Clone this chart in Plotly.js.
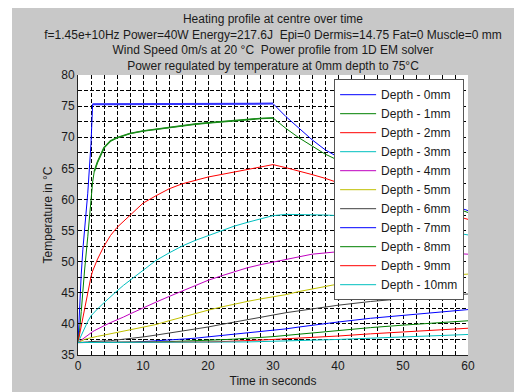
<!DOCTYPE html>
<html><head><meta charset="utf-8">
<script src="https://cdn.plot.ly/plotly-3.0.1.min.js"></script>
<style>
html,body{margin:0;padding:0;background:#ffffff;}
#chart{position:absolute;left:12px;top:8px;width:502px;height:384px;}
</style></head>
<body><div id="chart"></div>
<script>
const timeSec = [0,0.25,0.5,0.75,1,1.5,2,2.25,2.5,3,4,5,6,7,8,10,12,14,16,18,20,22,24,26,28,30,32,34,36,38,40,45,50,55,60];
const seriesNames = ["Depth - 0mm","Depth - 1mm","Depth - 2mm","Depth - 3mm","Depth - 4mm","Depth - 5mm","Depth - 6mm","Depth - 7mm","Depth - 8mm","Depth - 9mm","Depth - 10mm"];
const depth0 = [37,43,48,52,55,61,69,75.3,75.3,75.3,75.3,75.4,75.3,75.3,75.3,75.3,75.3,75.4,75.3,75.3,75.3,75.4,75.3,75.3,75.4,75.4,73.3,71.4,69.6,68.0,66.8,64.1,61.9,60.0,58.2];
const depth1 = [37,39,42,45.5,48.5,54,60,62.8,64.5,66,68.3,69.4,69.9,70.3,70.6,71.0,71.3,71.6,71.9,72.1,72.3,72.5,72.7,72.8,73,73.1,71.4,69.9,68.6,67.3,66.3,63.8,61.6,59.7,57.9];
const depth2 = [37,38.4,39.7,41,42.3,45.1,47.6,48.5,49.2,50.4,52.5,54.2,55.5,56.5,57.4,59.4,60.6,61.7,62.5,63.1,63.6,64,64.4,64.8,65.2,65.6,65.1,64.6,64.0,63.4,62.7,61.2,59.7,58.2,56.8];
const depth3 = [37,37.6,38.2,38.8,39.3,40.4,41.3,41.6,41.9,42.4,43.4,44.4,45.3,46.2,47.0,48.7,50.2,51.4,52.5,53.4,54.2,55,55.7,56.3,56.9,57.4,57.6,57.6,57.6,57.5,57.4,56.7,55.9,55.1,54.3];
const depth4 = [37,37.2,37.4,37.6,37.9,38.3,38.6,38.75,38.9,39.2,39.7,40.2,40.6,41.1,41.6,42.6,43.5,44.4,45.3,46.2,47.0,47.7,48.4,49.0,49.5,49.9,50.4,50.8,51.2,51.4,51.6,51.8,51.7,51.5,51.2];
const depth5 = [37,37.15,37.3,37.4,37.5,37.65,37.8,37.85,37.9,38.0,38.2,38.4,38.6,38.8,39.0,39.4,39.9,40.5,41.1,41.7,42.2,42.7,43.2,43.6,44.0,44.3,44.7,45.2,45.6,46.0,46.4,47.0,47.4,47.7,48.0];
const depth6 = [37,37,37.05,37.05,37.1,37.1,37.15,37.15,37.2,37.2,37.25,37.3,37.4,37.5,37.6,37.9,38.2,38.5,38.8,39.1,39.5,39.9,40.3,40.7,41.1,41.5,41.8,42.1,42.4,42.7,43.0,43.6,44.1,44.5,44.8];
const depth7 = [37,37,37,37,37,37,37,37,37,37,37,37,37.02,37.03,37.05,37.15,37.25,37.4,37.55,37.7,37.9,38.1,38.3,38.5,38.7,38.9,39.2,39.5,39.8,40.1,40.3,40.9,41.4,41.9,42.3];
const depth8 = [37,37,37,37,37,37,37,37,37,37,37,37,37,37,37,37.05,37.1,37.15,37.2,37.3,37.35,37.45,37.55,37.65,37.8,37.95,38.15,38.35,38.5,38.7,38.9,39.4,39.8,40.2,40.5];
const depth9 = [37,37,37,37,37,37,37,37,37,37,37,37,37,37,37,37,37,37,37,37.05,37.1,37.15,37.2,37.3,37.4,37.5,37.6,37.7,37.8,37.9,38.05,38.4,38.7,39.0,39.3];
const depth10 = [37,37,37,37,37,37,37,37,37,37,37,37,37,37,37,37,37,37,37,37,37,37.05,37.05,37.1,37.15,37.2,37.25,37.3,37.35,37.45,37.5,37.7,37.9,38.1,38.3];
const xTickVals = [0,10,20,30,40,50,60];
const yTickVals = [35,40,45,50,55,60,65,70,75,80];

const allSeries = [depth0,depth1,depth2,depth3,depth4,depth5,depth6,depth7,depth8,depth9,depth10];
const colors = ["#0000ff","#008000","#ff0000","#00bfbf","#bf00bf","#bfbf00","#404040","#0000ff","#008000","#ff0000","#00bfbf"];

const traces = allSeries.map((y,i)=>({
  x: timeSec, y: y, type:"scatter", mode:"lines", name: seriesNames[i],
  line:{color:colors[i], width:1}
}));
// slightly thicker overlay for the jittery regulated plateau (no legend)
traces.push({x: timeSec.slice(7,26), y: depth0.slice(7,26), type:"scatter", mode:"lines", showlegend:false, hoverinfo:"skip", line:{color:"#3333ff", width:2}});
traces.push({x: timeSec.slice(8,26), y: depth1.slice(8,26), type:"scatter", mode:"lines", showlegend:false, hoverinfo:"skip", line:{color:"#1a8c1a", width:1.6}});

const gridDash = "4px,2px";
const fontFam = "Liberation Sans, Arial, sans-serif";
const layout = {
  width:502, height:384,
  paper_bgcolor:"#c8c8c8", plot_bgcolor:"#ffffff",
  margin:{l:66, r:46, t:67, b:37},
  font:{family:fontFam, size:12, color:"#1a1a1a"},
  title:{
    text:"Heating profile at centre over time<br>f=1.45e+10Hz Power=40W Energy=217.6J  Epi=0 Dermis=14.75 Fat=0 Muscle=0 mm<br>Wind Speed 0m/s at 20 °C  Power profile from 1D EM solver<br>Power regulated by temperature at 0mm depth to 75°C",
    x:0.5, xref:"paper", xanchor:"center", y:0.961, yref:"container", yanchor:"top",
    font:{family:fontFam, size:12, color:"#1a1a1a"}
  },
  xaxis:{
    range:[0,60], tickvals:xTickVals, ticks:"inside", ticklen:4, tickcolor:"#000",
    showline:true, linecolor:"#222", linewidth:1,
    showgrid:true, gridcolor:"#000", gridwidth:1, griddash:gridDash,
    minor:{dtick:2, tick0:0, showgrid:true, gridcolor:"#000", griddash:gridDash, gridwidth:1},
    zeroline:false, tickfont:{size:12, color:"#1a1a1a"},
    title:{text:"Time in seconds", font:{size:12, color:"#1a1a1a"}, standoff:4}
  },
  yaxis:{
    range:[35,80], tickvals:yTickVals, ticks:"inside", ticklen:4, tickcolor:"#000",
    showline:true, linecolor:"#222", linewidth:1,
    showgrid:true, gridcolor:"#000", gridwidth:1, griddash:gridDash,
    minor:{dtick:2.5, tick0:35, showgrid:true, gridcolor:"#000", griddash:gridDash, gridwidth:1},
    zeroline:false, tickfont:{size:12, color:"#1a1a1a"},
    title:{text:"Temperature in °C", font:{size:12, color:"#1a1a1a"}, standoff:6}
  },
  legend:{
    x:0.99, y:0.985, xanchor:"right", yanchor:"top",
    bgcolor:"#ffffff", bordercolor:"#555", borderwidth:1,
    font:{size:12, color:"#1a1a1a"}, itemwidth:36, tracegroupgap:0
  },
  showlegend:true
};
Plotly.newPlot("chart", traces, layout, {staticPlot:true, displayModeBar:false});
</script>
</body></html>
